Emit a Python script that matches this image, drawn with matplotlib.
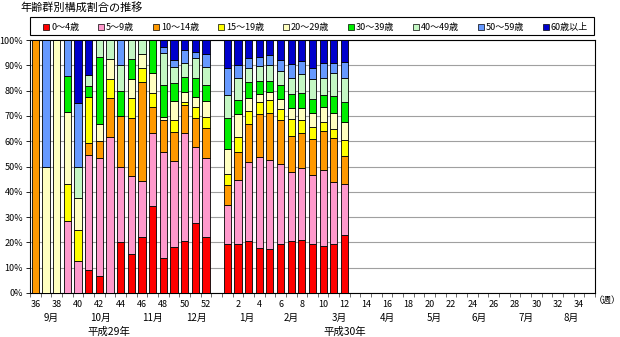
import matplotlib.pyplot as plt
from matplotlib.patches import Patch, Rectangle
from matplotlib.ticker import FixedLocator, PercentFormatter
import matplotlib.transforms as mtransforms

plt.rcParams['font.family'] = ['Noto Sans CJK JP', 'DejaVu Sans']

# weeks shown on the axis: H29 weeks 36-52, a blank slot, then H30 weeks 1-35
weeks_h29 = list(range(36, 53))
weeks_h30 = list(range(1, 36))
n_h30_reported = 12  # weeks of H30 that have data so far

age_groups = ["0～4歳", "5～9歳", "10～14歳", "15～19歳", "20～29歳",
              "30～39歳", "40～49歳", "50～59歳", "60歳以上"]
colours = ["#FF0000", "#FF99CC", "#FF9900", "#FFFF00", "#FFFFC0",
           "#00EE00", "#C4F7C4", "#6699FF", "#0000CC"]

# share (%) per week, H29 w36..w52 followed by H30 w1..w12
age_0_4 = [0, 0, 0, 0, 0, 9.1, 6.7, 0, 20, 15.4, 22.2, 34.2, 13.8, 18.2, 20.4, 27.6, 22.1,
           19.3, 19.3, 20.7, 17.8, 17.4, 19.5, 20.7, 20.9, 19.3, 18.7, 19.3, 23.0]
age_5_9 = [0, 0, 0, 28.6, 12.5, 45.5, 46.6, 61.5, 30, 30.8, 22.2, 28.9, 42.1, 34.0, 42.8, 30.3, 31.2,
           15.6, 25.2, 30.9, 36.1, 35.0, 31.6, 27.3, 28.4, 27.4, 30.0, 24.5, 20.0]
age_10_14 = [100, 0, 0, 0, 0, 4.5, 6.7, 15.4, 20, 23.0, 38.9, 10.5, 12.5, 11.4, 11.1, 11.1, 11.8,
             7.9, 11.4, 15.1, 16.8, 18.9, 17.1, 14.1, 13.9, 14.1, 15.5, 17.4, 11.2]
age_15_19 = [0, 0, 0, 14.3, 12.5, 18.2, 0, 7.7, 0, 7.7, 5.6, 5.3, 0, 4.8, 1.0, 4.7, 4.6,
             4.2, 5.9, 5.3, 4.7, 5.0, 4.4, 6.6, 5.0, 5.0, 3.2, 3.7, 6.3]
age_20_29 = [0, 50, 100, 28.6, 12.5, 0, 6.7, 7.7, 0, 7.7, 5.5, 7.9, 1.1, 7.6, 4.3, 3.9, 6.2,
             9.8, 8.9, 5.2, 3.2, 3.3, 4.0, 4.6, 5.1, 5.5, 6.3, 6.2, 7.0]
age_30_39 = [0, 0, 0, 14.3, 0, 4.5, 26.6, 0, 10, 7.7, 0, 13.2, 12.7, 6.9, 5.9, 7.3, 6.3,
             12.5, 5.6, 6.1, 5.3, 4.3, 5.6, 5.3, 5.6, 5.4, 4.6, 6.8, 7.8]
age_40_49 = [0, 0, 0, 0, 12.5, 4.5, 6.7, 7.7, 10, 7.7, 5.6, 0, 12.5, 6.6, 5.3, 7.9, 7.3,
             9.0, 8.6, 5.5, 5.8, 6.2, 5.7, 6.5, 7.5, 7.8, 6.6, 8.9, 9.6]
age_50_59 = [0, 50, 0, 14.3, 25, 0, 0, 0, 10, 0, 0, 0, 2.7, 2.6, 5.2, 2.6, 5.0,
             10.5, 5.2, 4.2, 3.7, 4.0, 4.2, 5.3, 5.3, 4.3, 5.9, 4.0, 6.3]
age_60_plus = [0, 0, 0, 0, 25, 13.6, 0, 0, 0, 0, 0, 0, 2.6, 7.9, 4.0, 4.6, 5.5,
               11.2, 9.9, 7.0, 6.6, 5.9, 7.9, 9.6, 8.3, 11.2, 9.2, 9.2, 8.8]

series = [age_0_4, age_5_9, age_10_14, age_15_19, age_20_29,
          age_30_39, age_40_49, age_50_59, age_60_plus]

months = ["9月", "10月", "11月", "12月", "1月", "2月", "3月", "4月", "5月", "6月", "7月", "8月"]
month_pos = [1.5, 6.1, 11.0, 15.1, 19.8, 24.0, 28.5, 33.0, 37.4, 41.6, 46.0, 50.3]
years = ["平成29年", "平成30年"]
year_pos = [6.9, 29.0]

# slot positions on the x axis
slots_h29 = list(range(len(weeks_h29)))
slots_h30 = [len(weeks_h29) + 1 + i for i in range(len(weeks_h30))]
all_slots = slots_h29 + slots_h30
all_weeks = weeks_h29 + weeks_h30
bar_x = slots_h29 + slots_h30[:n_h30_reported]

fig = plt.figure(figsize=(6.2, 3.37), dpi=100)
ax = fig.add_axes([30 / 620, 1 - 293 / 337, 565 / 620, 253 / 337])

bottom = [0] * len(bar_x)
for vals, col in zip(series, colours):
    ax.bar(bar_x, vals, bottom=bottom, width=0.68, color=col,
           edgecolor="black", linewidth=0.6, zorder=3)
    bottom = [b + v for b, v in zip(bottom, vals)]

ax.set_xlim(-0.5, all_slots[-1] + 0.5)
ax.set_ylim(0, 100)
ax.set_yticks(range(0, 101, 10))
ax.yaxis.set_major_formatter(PercentFormatter(decimals=0))
ax.grid(axis="y", color="#A0A0A0", linewidth=0.8, zorder=0)

# week numbers every second week, small ticks between every slot
lab_slots = [s for s, w in zip(all_slots, all_weeks) if w % 2 == 0]
lab_text = [str(w) for w in all_weeks if w % 2 == 0]
ax.set_xticks(lab_slots)
ax.set_xticklabels(lab_text)
ax.xaxis.set_minor_locator(FixedLocator([s - 0.5 for s in range(all_slots[-1] + 2)]))
ax.tick_params(axis="x", which="major", length=0, pad=5, labelsize=6.5)
ax.tick_params(axis="x", which="minor", length=3, width=0.6, color="#555555")
ax.tick_params(axis="y", length=3, width=0.6, labelsize=6.5, pad=2)

for sp in ax.spines.values():
    sp.set_linewidth(0.8)
    sp.set_color("black")

trans = mtransforms.blended_transform_factory(ax.transData, ax.transAxes)
for m, p in zip(months, month_pos):
    ax.text(p, -0.099, m, transform=trans, ha="center", va="center", fontsize=7)
for y, p in zip(years, year_pos):
    ax.text(p, -0.154, y, transform=trans, ha="center", va="center", fontsize=7.5)

fig.text(607 / 620, 1 - 300 / 337, "（週）", ha="center", va="center", fontsize=6.5)
fig.text(20 / 620, 1 - 7 / 337, "年齢群別構成割合の推移", ha="left", va="center", fontsize=8)

# legend box drawn separately so the entries can sit inside with wider margins
fig.add_artist(Rectangle((30 / 620, 1 - 35 / 337), 564 / 620, 18 / 337,
                         transform=fig.transFigure, fill=False,
                         edgecolor="black", linewidth=0.8))
handles = [Patch(facecolor=c, edgecolor="black", linewidth=0.5) for c in colours]
fig.legend(handles, age_groups, loc="lower left", ncol=9, mode="expand",
           bbox_to_anchor=(40 / 620, 1 - 35 / 337, 551 / 620, 18 / 337),
           borderaxespad=0, fontsize=6.5, handlelength=0.7, handleheight=0.7,
           handletextpad=0.2, columnspacing=0.5, borderpad=0.35, frameon=False)

fig.savefig("out.png", dpi=100)
